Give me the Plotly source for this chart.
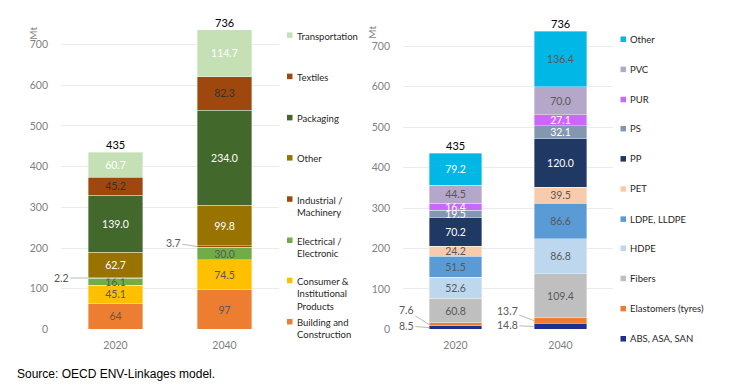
import plotly.graph_objects as go
import numpy as np

W, H = 733, 389
H_MAP = 381   # the photographed page appears ~2% shorter vertically; map reference pixels on this basis
years = ["2020", "2040"]

# Left chart: by sector (bottom to top)
sectors = ["Building and Construction", "Consumer & Institutional Products", "Electrical / Electronic",
           "Industrial / Machinery", "Other", "Packaging", "Textiles", "Transportation"]
sector_legend = ["Building and<br>Construction", "Consumer &<br>Institutional<br>Products", "Electrical /<br>Electronic",
                 "Industrial /<br>Machinery", "Other", "Packaging", "Textiles", "Transportation"]
sector_2020 = [64, 45.1, 16.1, 2.2, 62.7, 139.0, 45.2, 60.7]
sector_2040 = [97, 74.5, 30.0, 3.7, 99.8, 234.0, 82.3, 114.7]
sector_labels_2020 = ["64", "45.1", "16.1", "", "62.7", "139.0", "45.2", "60.7"]
sector_labels_2040 = ["97", "74.5", "30.0", "", "99.8", "234.0", "82.3", "114.7"]
sector_colors = ["#ED7D31", "#FFC000", "#70AD47", "#9E480E", "#997300", "#43682B", "#9E480E", "#C5E0B4"]
sector_txtcol = ["#595959", "#595959", "#595959", "#595959", "#FFFFFF", "#FFFFFF", "#333333", "#FFFFFF"]

# Right chart: by polymer (bottom to top)
polymers = ["ABS, ASA, SAN", "Elastomers (tyres)", "Fibers", "HDPE", "LDPE, LLDPE", "PET", "PP", "PS", "PUR", "PVC", "Other"]
poly_2020 = [8.5, 7.6, 60.8, 52.6, 51.5, 24.2, 70.2, 19.5, 16.4, 44.5, 79.2]
poly_2040 = [14.8, 13.7, 109.4, 86.8, 86.6, 39.5, 120.0, 32.1, 27.1, 70.0, 136.4]
poly_colors = ["#1B2F8F", "#ED7D31", "#BFBFBF", "#BDD7EE", "#5B9BD5", "#F8CBAD", "#203864", "#8497B0", "#CC66FF", "#B4A7C9", "#00B7E6"]
poly_txtcol_2020 = ["#595959", "#595959", "#595959", "#595959", "#595959", "#595959", "#FFFFFF", "#FFFFFF", "#FFFFFF", "#595959", "#FFFFFF"]
poly_txtcol_2040 = ["#595959", "#595959", "#595959", "#595959", "#595959", "#595959", "#FFFFFF", "#FFFFFF", "#FFFFFF", "#595959", "#595959"]

totals = ["435", "736"]

FONT = "Lato"
fig = go.Figure()

def px_x(x):
    return x / W

def px_y(y):
    return 1 - y / H_MAP

for i, name in enumerate(sectors):
    fig.add_trace(go.Bar(
        x=years, y=[sector_2020[i], sector_2040[i]], name=name,
        marker=dict(color=sector_colors[i], line=dict(color="rgba(255,255,255,0.6)", width=0.6)),
        text=[sector_labels_2020[i], sector_labels_2040[i]], textposition="inside",
        insidetextanchor="middle", textangle=0, constraintext="none",
        textfont=dict(color=sector_txtcol[i], size=10.5, family=FONT),
        xaxis="x", yaxis="y", showlegend=False, width=0.5))

for i, name in enumerate(polymers):
    lab = ["", ""] if i < 2 else [f"{poly_2020[i]:.1f}", f"{poly_2040[i]:.1f}"]
    fig.add_trace(go.Bar(
        x=years, y=[poly_2020[i], poly_2040[i]], name=name,
        marker=dict(color=poly_colors[i], line=dict(color="rgba(255,255,255,0.6)", width=0.6)),
        text=lab, textposition="inside",
        insidetextanchor="middle", textangle=0, constraintext="none",
        textfont=dict(color=[poly_txtcol_2020[i], poly_txtcol_2040[i]], size=10.5, family=FONT),
        xaxis="x2", yaxis="y2", showlegend=False, width=0.5))

ann = []
sum_l = [sum(sector_2020), sum(sector_2040)]
sum_r = [sum(poly_2020), sum(poly_2040)]
for j in range(2):
    ann.append(dict(x=j, y=sum_l[j], xref="x", yref="y", text=totals[j], showarrow=False,
                    yanchor="bottom", yshift=-1, font=dict(size=11, color="#000000", family=FONT)))
    ann.append(dict(x=j, y=sum_r[j], xref="x2", yref="y2", text=totals[j], showarrow=False,
                    yanchor="bottom", yshift=-1, font=dict(size=11, color="#000000", family=FONT)))

lead = dict(showarrow=True, arrowhead=0, arrowwidth=0.8, arrowcolor="#A6A6A6",
            font=dict(size=10.5, color="#595959", family=FONT), standoff=0)
ind_mid = [sum(sector_2020[:3]) + sector_2020[3] / 2, sum(sector_2040[:3]) + sector_2040[3] / 2]
ann.append(dict(x=-0.25, y=ind_mid[0], xref="x", yref="y", text=f"{sector_2020[3]:.1f}", ax=-27, ay=0, **lead))
ann.append(dict(x=0.75, y=ind_mid[1], xref="x", yref="y", text=f"{sector_2040[3]:.1f}", ax=-24, ay=-4, **lead))
abs_mid = [poly_2020[0] / 2, poly_2040[0] / 2]
ela_mid = [poly_2020[0] + poly_2020[1] / 2, poly_2040[0] + poly_2040[1] / 2]
ann.append(dict(x=-0.25, y=ela_mid[0], xref="x2", yref="y2", text=f"{poly_2020[1]:.1f}", ax=-23, ay=-14, **lead))
ann.append(dict(x=-0.25, y=abs_mid[0], xref="x2", yref="y2", text=f"{poly_2020[0]:.1f}", ax=-23, ay=-2, **lead))
ann.append(dict(x=0.75, y=ela_mid[1], xref="x2", yref="y2", text=f"{poly_2040[1]:.1f}", ax=-27, ay=-10, **lead))
ann.append(dict(x=0.75, y=abs_mid[1], xref="x2", yref="y2", text=f"{poly_2040[0]:.1f}", ax=-27, ay=-1, **lead))

ann.append(dict(x=px_x(25), y=px_y(25), xref="paper", yref="paper", text="Mt", textangle=-90, showarrow=False,
                font=dict(size=10, color="#7F7F7F", family=FONT)))
ann.append(dict(x=px_x(372), y=px_y(24), xref="paper", yref="paper", text="Mt", textangle=-90, showarrow=False,
                font=dict(size=10, color="#7F7F7F", family=FONT)))

ann.append(dict(x=px_x(15), y=px_y(372), xref="paper", yref="paper", text="Source: OECD ENV-Linkages model.",
                showarrow=False, xanchor="left", yanchor="middle",
                font=dict(size=12, color="#000000", family="Liberation Sans")))

shapes = []
left_leg_y = [35, 76, 117, 157, 198, 239, 279, 320]
for k, idx in enumerate(range(len(sectors) - 1, -1, -1)):
    y = left_leg_y[k]
    shapes.append(dict(type="rect", xref="paper", yref="paper",
                       x0=px_x(287), x1=px_x(292.5), y0=px_y(y + 2.75), y1=px_y(y - 2.75),
                       fillcolor=sector_colors[idx], line=dict(width=0)))
    ann.append(dict(x=px_x(295), y=px_y(y - 6.5), xref="paper", yref="paper", text=sector_legend[idx],
                    showarrow=False, xanchor="left", yanchor="top", align="left",
                    font=dict(size=9.5, color="#262626", family=FONT)))
right_leg_y = [39, 69, 99, 128, 158, 188, 218, 247, 277, 307, 337]
for k, idx in enumerate(range(len(polymers) - 1, -1, -1)):
    y = right_leg_y[k]
    shapes.append(dict(type="rect", xref="paper", yref="paper",
                       x0=px_x(620.5), x1=px_x(626), y0=px_y(y + 2.75), y1=px_y(y - 2.75),
                       fillcolor=poly_colors[idx], line=dict(width=0)))
    ann.append(dict(x=px_x(628), y=px_y(y), xref="paper", yref="paper", text=polymers[idx],
                    showarrow=False, xanchor="left", yanchor="middle", align="left",
                    font=dict(size=9.5, color="#262626", family=FONT)))

yax_common = dict(range=[0, 760], dtick=100, tick0=0, showgrid=True, gridcolor="#EBEBEB", gridwidth=1,
                  zeroline=False, showline=False, ticks="", tickfont=dict(size=10.5, color="#7F7F7F", family=FONT),
                  ticklabelstandoff=12)
xax_common = dict(showgrid=False, zeroline=False, showline=False, ticks="", type="category",
                  range=[-0.5, 1.5], tickfont=dict(size=10.5, color="#7F7F7F", family=FONT),
                  ticklabelstandoff=8)

fig.update_layout(
    width=W, height=H, margin=dict(l=0, r=0, t=0, b=0),
    paper_bgcolor="white", plot_bgcolor="white", barmode="stack", bargap=0.5,
    uniformtext=dict(minsize=10.5, mode="show"),
    xaxis=dict(domain=[px_x(61), px_x(279)], anchor="y", **xax_common),
    yaxis=dict(domain=[px_y(327.7), px_y(20.0)], anchor="x", **yax_common),
    xaxis2=dict(domain=[px_x(403), px_x(613)], anchor="y2", **xax_common),
    yaxis2=dict(domain=[px_y(327.7), px_y(21.8)], anchor="x2", **yax_common),
    annotations=ann, shapes=shapes, showlegend=False,
)

css = ("var d=document.documentElement,b=document.body;"
       "d.style.margin='0';d.style.padding='0';"
       "b.style.margin='0';b.style.padding='0';")
fig.write_html("out.html", config={"displayModeBar": False}, post_script=css)
